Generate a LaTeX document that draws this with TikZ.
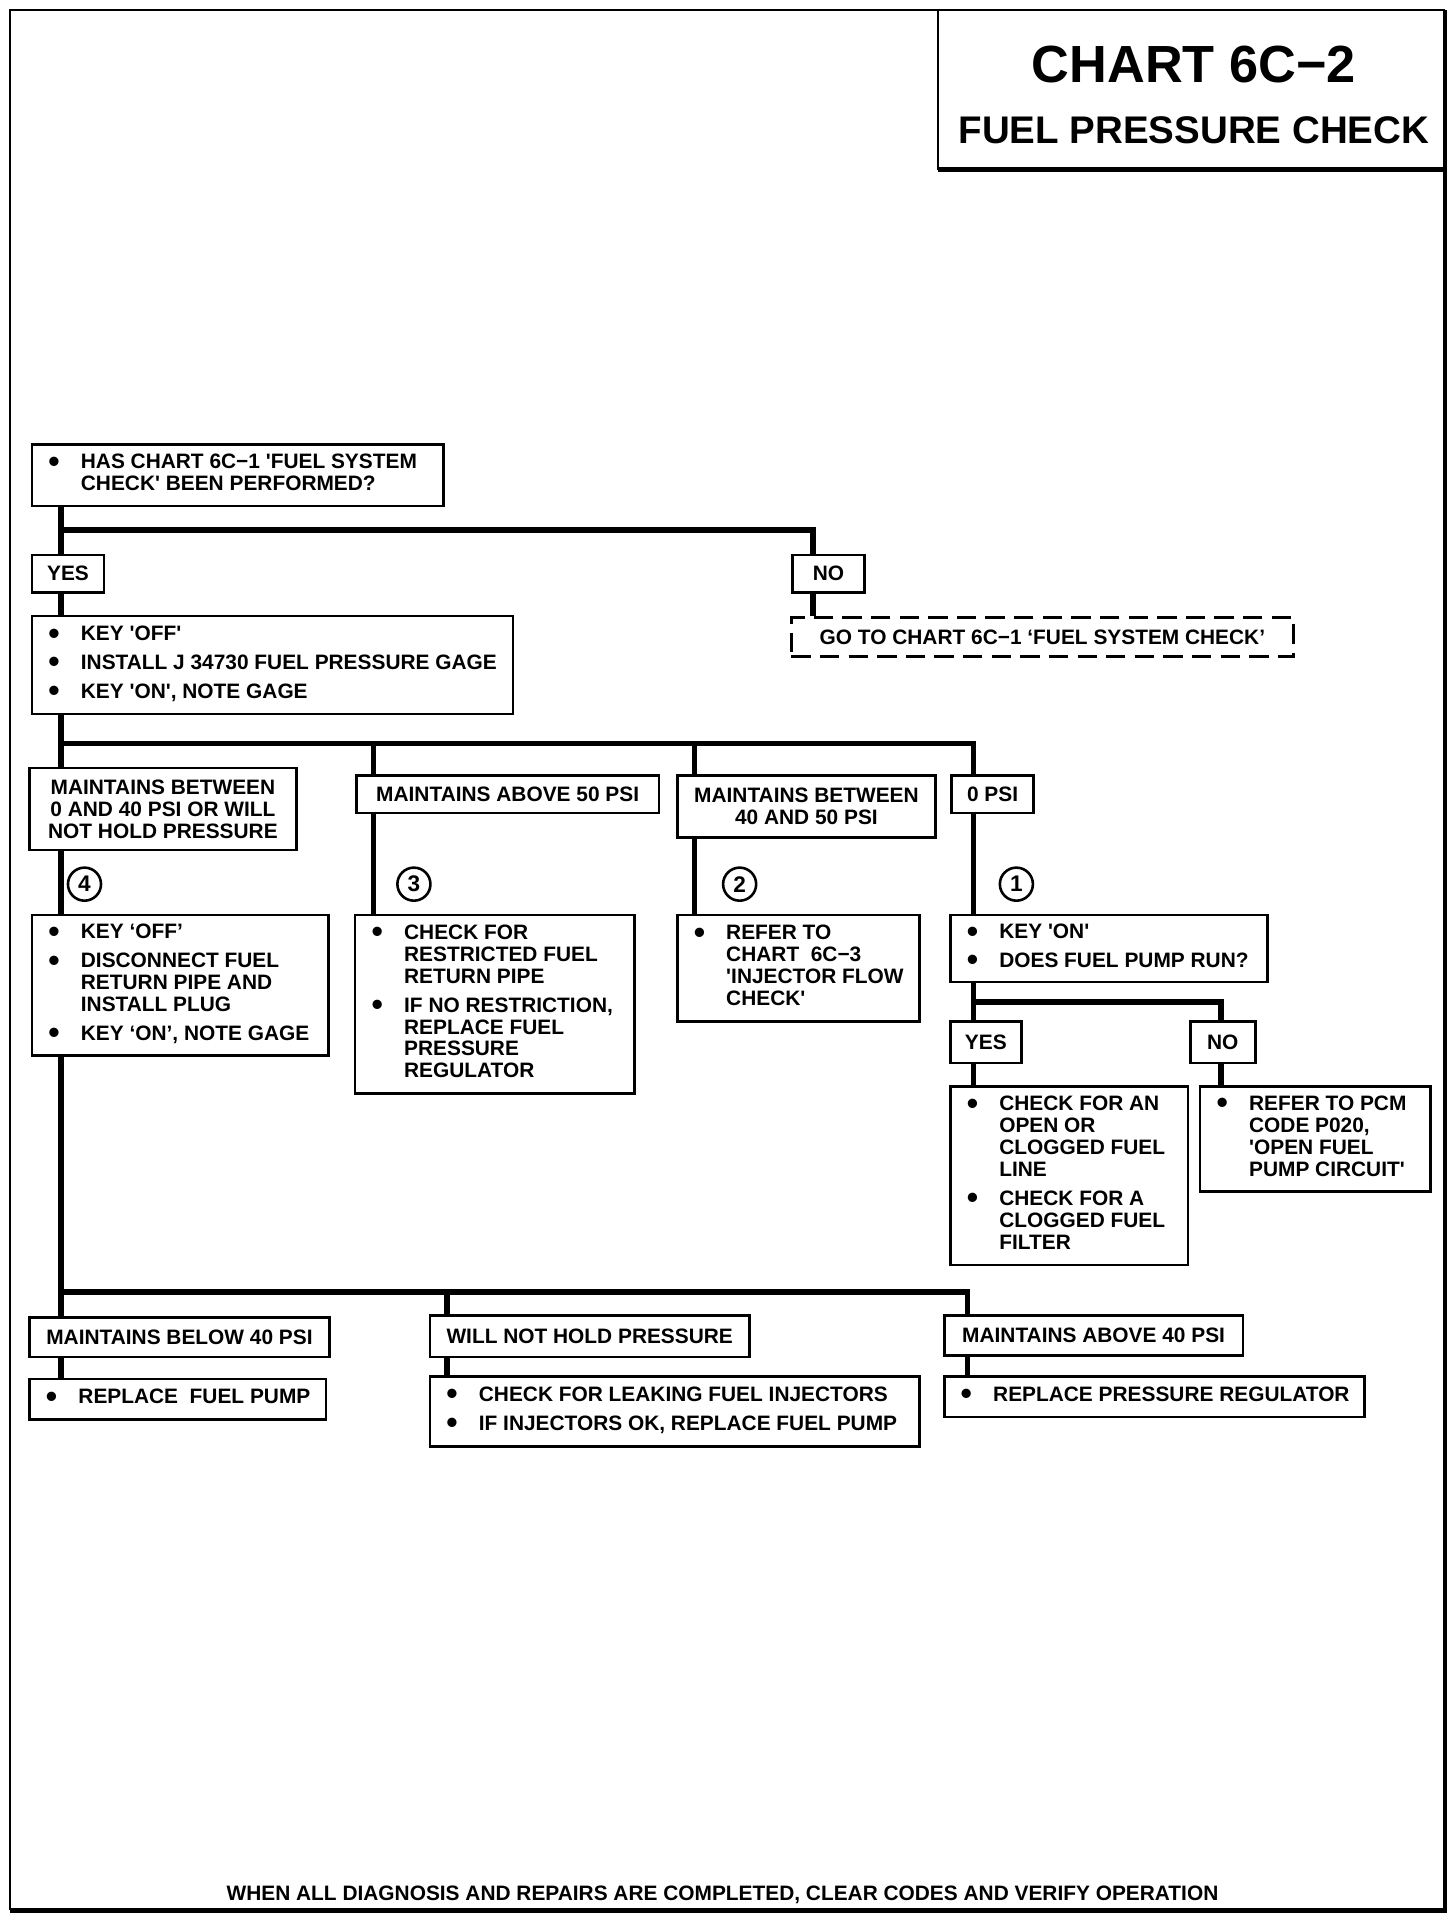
\documentclass[tikz,border=0pt]{standalone}
\usepackage{fontspec}
\usepackage{graphicx}
\setmainfont{Liberation Sans}
\newdimen\pxu \pxu=0.02cm
\newcommand\bu{\makebox[40\pxu][l]{\hspace*{13.5\pxu}\raisebox{-0.17em}{\scalebox{1.55}{\textbullet}}}}
\newcommand\sq{\textquotesingle}
\newcommand\lb[2]{\makebox[#1\pxu][l]{\begin{tabular}{@{}l@{}l@{}}#2\end{tabular}}}
\tikzset{
  every node/.style={font=\bfseries\fontsize{9.7}{10.2}\selectfont},
  box/.style={draw, line width=1.2pt, inner sep=0pt, anchor=north west},
  lab/.style={draw, line width=1.2pt, inner sep=0pt, anchor=north west, align=center},
  conn/.style={line width=2.6pt, line join=miter},
  num/.style={draw, circle, line width=1.2pt, inner sep=0pt, minimum size=27\pxu, font=\bfseries\fontsize{10.5}{10.5}\selectfont},
  dashbox/.style={draw, line width=1.4pt, dash pattern=on 9pt off 4.3pt, inner sep=0pt, anchor=north west, align=center},
}
\begin{document}
\begin{tikzpicture}[x=0.02cm,y=-0.02cm]
\fill[white] (0,0) rectangle (1189,1563);
\useasboundingbox (0,0) rectangle (1189,1563);
% frame
\draw[line width=1.2pt] (1180,8) -- (8,8) -- (8,1560);
\draw[line width=2.2pt] (8,1560) -- (1180,1560) -- (1180,8);
% title box
\node[anchor=north west, inner sep=0pt, minimum width=414\pxu, minimum height=130\pxu] (title) at (766,8) {};
\draw[line width=1.2pt] (title.north west) -- (title.south west);
\draw[line width=2.4pt] (title.south west) -- (title.south east);
\node[font=\bfseries\fontsize{24.3}{26}\selectfont] (t1) at (975,53) {CHART 6C−2};
\node[font=\bfseries\fontsize{17.9}{20}\selectfont] (t2) at (975,106) {FUEL PRESSURE CHECK};

% boxes
\node[box, minimum height=50\pxu] (A) at (25,362) {\lb{336}{\bu & HAS CHART 6C−1 \sq FUEL SYSTEM\\ & CHECK\sq{} BEEN PERFORMED?}};
\node[lab, minimum width=59\pxu, minimum height=31\pxu] (yes1) at (25,452) {YES};
\node[lab, minimum width=59\pxu, minimum height=31\pxu] (no1) at (646,452) {NO};
\node[dashbox, minimum width=410\pxu, minimum height=32\pxu] (go) at (645,503) {GO TO CHART 6C−1 ‘FUEL SYSTEM CHECK’};
\node[box, minimum height=80\pxu] (B) at (25,502) {\lb{393}{\bu & KEY \sq OFF\sq\\[3.2pt] \bu & INSTALL J 34730 FUEL PRESSURE GAGE\\[3.2pt] \bu & KEY \sq ON\sq, NOTE GAGE}};

\node[lab, minimum width=218\pxu, minimum height=67\pxu] (c1) at (23,626) {MAINTAINS BETWEEN\\0 AND 40 PSI OR WILL\\NOT HOLD PRESSURE};
\node[lab, minimum width=247\pxu, minimum height=31\pxu] (c2) at (290,632) {MAINTAINS ABOVE 50 PSI};
\node[lab, minimum width=211\pxu, minimum height=51\pxu] (c3) at (552,632) {MAINTAINS BETWEEN\\40 AND 50 PSI};
\node[lab, minimum width=67\pxu, minimum height=31\pxu] (c4) at (776,632) {0 PSI};

\node[num] (n4) at (69,722) {4};
\node[num] (n3) at (338,722) {3};
\node[num] (n2) at (604,722) {2};
\node[num] (n1) at (830,722) {1};

\node[box, minimum height=115\pxu] (d1) at (25,746) {\lb{242}{\bu & KEY ‘OFF’\\[3.2pt] \bu & DISCONNECT FUEL\\ & RETURN PIPE AND\\ & INSTALL PLUG\\[3.2pt] \bu & KEY ‘ON’, NOTE GAGE}};
\node[box, minimum height=146\pxu] (d2) at (289,746) {\lb{228}{\bu & CHECK FOR\\ & RESTRICTED FUEL\\ & RETURN PIPE\\[3.2pt] \bu & IF NO RESTRICTION,\\ & REPLACE FUEL\\ & PRESSURE\\ & REGULATOR}};
\node[box, minimum height=87\pxu] (d3) at (552,746) {\lb{198}{\bu & REFER TO\\ & CHART\ \ 6C−3\\ & \sq INJECTOR FLOW\\ & CHECK\sq}};
\node[box, minimum height=55\pxu] (d4) at (775,746) {\lb{259}{\bu & KEY \sq ON\sq\\[3.2pt] \bu & DOES FUEL PUMP RUN?}};

\node[lab, minimum width=58\pxu, minimum height=34\pxu] (yes2) at (775,833) {YES};
\node[lab, minimum width=53\pxu, minimum height=34\pxu] (no2) at (971,833) {NO};
\node[box, minimum height=146\pxu] (e1) at (775,886) {\lb{194}{\bu & CHECK FOR AN\\ & OPEN OR\\ & CLOGGED FUEL\\ & LINE\\[3.2pt] \bu & CHECK FOR A\\ & CLOGGED FUEL\\ & FILTER}};
\node[box, minimum height=86\pxu] (e2) at (979,886) {\lb{188}{\bu & REFER TO PCM\\ & CODE P020,\\ & \sq OPEN FUEL\\ & PUMP CIRCUIT\sq}};

\node[lab, minimum width=245\pxu, minimum height=32\pxu] (f1) at (23,1075) {MAINTAINS BELOW 40 PSI};
\node[lab, minimum width=261\pxu, minimum height=34\pxu] (f2) at (350,1073) {WILL NOT HOLD PRESSURE};
\node[lab, minimum width=244\pxu, minimum height=33\pxu] (f3) at (770,1073) {MAINTAINS ABOVE 40 PSI};
\node[box, minimum height=33\pxu] (g1) at (23,1125) {\lb{242}{\bu & REPLACE\ \ FUEL PUMP}};
\node[box, minimum height=57\pxu] (g2) at (350,1123) {\lb{400}{\bu & CHECK FOR LEAKING FUEL INJECTORS\\[3.2pt] \bu & IF INJECTORS OK, REPLACE FUEL PUMP}};
\node[box, minimum height=33\pxu] (g3) at (770,1123) {\lb{343}{\bu & REPLACE PRESSURE REGULATOR}};

\node (foot) at (590,1547) {WHEN ALL DIAGNOSIS AND REPAIRS ARE COMPLETED, CLEAR CODES AND VERIFY OPERATION};

% connectors
\coordinate (j1) at (50,433); \coordinate (j1r) at (664,433);
\draw[conn] (A.south -| j1) -- (yes1.north -| j1);
\draw[conn] (j1) -- (j1r) -- (no1.north -| j1r);
\draw[conn] (no1.south -| j1r) -- (go.north -| j1r);
\draw[conn] (yes1.south -| j1) -- (B.north -| j1);
\coordinate (j2) at (50,607); \coordinate (j2b) at (305,607);
\coordinate (j2c) at (567,607); \coordinate (j2d) at (795,607);
\draw[conn] (B.south -| j2) -- (c1.north -| j2);
\draw[conn] (j2) -- (j2d) -- (c4.north -| j2d);
\draw[conn] (j2b) -- (c2.north -| j2b);
\draw[conn] (j2c) -- (c3.north -| j2c);
\draw[conn] (c1.south -| j2) -- (d1.north -| j2);
\draw[conn] (c2.south -| j2b) -- (d2.north -| j2b);
\draw[conn] (c3.south -| j2c) -- (d3.north -| j2c);
\draw[conn] (c4.south -| j2d) -- (d4.north -| j2d);
\coordinate (j4) at (795,818); \coordinate (j4r) at (997,818);
\draw[conn] (d4.south -| j4) -- (yes2.north -| j4);
\draw[conn] (j4) -- (j4r) -- (no2.north -| j4r);
\draw[conn] (yes2.south -| j4) -- (e1.north -| j4);
\draw[conn] (no2.south -| j4r) -- (e2.north -| j4r);
\coordinate (j3) at (50,1055); \coordinate (j3b) at (365,1055); \coordinate (j3c) at (790,1055);
\draw[conn] (d1.south -| j3) -- (f1.north -| j3);
\draw[conn] (j3) -- (j3c) -- (f3.north -| j3c);
\draw[conn] (j3b) -- (f2.north -| j3b);
\draw[conn] (f1.south -| j3) -- (g1.north -| j3);
\draw[conn] (f2.south -| j3b) -- (g2.north -| j3b);
\draw[conn] (f3.south -| j3c) -- (g3.north -| j3c);
\end{tikzpicture}
\end{document}
